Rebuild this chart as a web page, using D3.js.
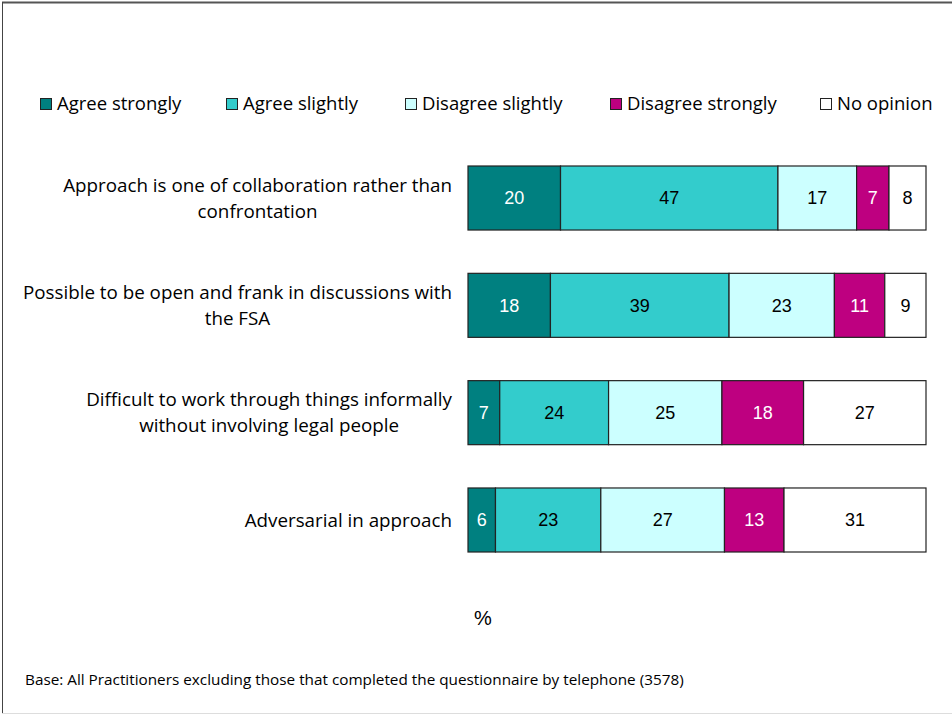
<!DOCTYPE html>
<html>
<head>
<meta charset="utf-8">
<script src="https://cdn.jsdelivr.net/npm/d3@7"></script>
<style>
  html, body { margin: 0; padding: 0; background: #fff; }
  svg { display: block; }
</style>
</head>
<body>
<svg id="chart" width="952" height="715"></svg>
<script>
// Statements and response shares (%)
const statements = [
  ["Approach is one of collaboration rather than", "confrontation"],
  ["Possible to be open and frank in discussions with", "the FSA"],
  ["Difficult to work through things informally", "without involving legal people"],
  ["Adversarial in approach"]
];
const responses = ["Agree strongly", "Agree slightly", "Disagree slightly", "Disagree strongly", "No opinion"];
const agreeStrongly    = [20, 18, 7, 6];
const agreeSlightly    = [47, 39, 24, 23];
const disagreeSlightly = [17, 23, 25, 27];
const disagreeStrongly = [7, 11, 18, 13];
const noOpinion        = [8, 9, 27, 31];
const axisLabel = "%";
const baseNote = "Base: All Practitioners excluding those that completed the questionnaire by telephone (3578)";

const seriesValues = [agreeStrongly, agreeSlightly, disagreeSlightly, disagreeStrongly, noOpinion];
const colors = ["#008080", "#33CCCC", "#CCFFFF", "#BE0080", "#FFFFFF"];
const labelColors = ["#FFFFFF", "#000000", "#000000", "#FFFFFF", "#000000"];

const svg = d3.select("#chart");
const labelFont = "'Open Sans', sans-serif";
const numFont = "'Liberation Sans', Arial, sans-serif";

// Frame lines
svg.append("line").attr("x1", 2).attr("x2", 952).attr("y1", 2.5).attr("y2", 2.5).attr("stroke", "#555").attr("stroke-width", 2);
svg.append("line").attr("x1", 2.5).attr("x2", 2.5).attr("y1", 2).attr("y2", 713).attr("stroke", "#444").attr("stroke-width", 1);
svg.append("line").attr("x1", 2).attr("x2", 952).attr("y1", 713.5).attr("y2", 713.5).attr("stroke", "#ddd").attr("stroke-width", 1);

// Rows: each statement's shares normalised to a full-width bar
const rows = statements.map((s, i) => {
  const vals = seriesValues.map(sv => sv[i]);
  const total = d3.sum(vals);
  let acc = 0;
  const segs = vals.map((v, k) => {
    const seg = { k, v, x0: acc / total * 100, x1: (acc + v) / total * 100 };
    acc += v;
    return seg;
  });
  return { label: s, segs };
});

const x = d3.scaleLinear().domain([0, 100]).range([468, 926]);
const y = d3.scaleBand().domain(d3.range(statements.length)).range([166, 552]).paddingInner(0.4035).paddingOuter(0);

const row = svg.selectAll("g.row").data(rows).join("g").attr("class", "row")
  .attr("transform", (d, i) => `translate(0,${y(i)})`);

row.selectAll("rect").data(d => d.segs).join("rect")
  .attr("x", d => x(d.x0))
  .attr("width", d => x(d.x1) - x(d.x0))
  .attr("y", 0)
  .attr("height", y.bandwidth())
  .attr("fill", d => colors[d.k])
  .attr("stroke", "#222")
  .attr("stroke-width", 1.2);

row.selectAll("text.val").data(d => d.segs).join("text").attr("class", "val")
  .attr("x", d => (x(d.x0) + x(d.x1)) / 2)
  .attr("y", y.bandwidth() / 2)
  .attr("dy", "0.36em")
  .attr("text-anchor", "middle")
  .attr("font-family", numFont)
  .attr("font-size", 18)
  .attr("fill", d => labelColors[d.k])
  .text(d => d.v);

// Category labels: centred lines in a block whose right edge sits beside the bars
row.each(function (d) {
  const g = d3.select(this);
  const t = g.append("text")
    .attr("font-family", labelFont)
    .attr("font-size", 18.8)
    .attr("fill", "#000")
    .attr("text-anchor", "middle");
  const lh = 26;
  const n = d.label.length;
  const spans = t.selectAll("tspan").data(d.label).join("tspan")
    .text(line => line)
    .attr("y", (line, j) => y.bandwidth() / 2 + (j - (n - 1) / 2) * lh)
    .attr("dy", "0.35em");
  const maxW = d3.max(spans.nodes(), s => s.getComputedTextLength());
  spans.attr("x", 452 - maxW / 2);
});

// Legend
const legendX = [40, 226, 405, 610, 820];
const leg = svg.selectAll("g.leg").data(responses).join("g").attr("class", "leg")
  .attr("transform", (d, i) => `translate(${legendX[i]},104)`);
leg.append("rect").attr("x", 0.5).attr("y", -5.5).attr("width", 11).attr("height", 11)
  .attr("fill", (d, i) => colors[i]).attr("stroke", "#222").attr("stroke-width", 1);
leg.append("text").attr("x", 17).attr("y", 0).attr("dy", "0.35em")
  .attr("font-family", labelFont).attr("font-size", 18.5).attr("fill", "#000").text(d => d);

// Axis unit
svg.append("text").attr("x", 483).attr("y", 618).attr("dy", "0.35em").attr("text-anchor", "middle")
  .attr("font-family", numFont).attr("font-size", 20).attr("fill", "#000").text(axisLabel);

// Base note
svg.append("text").attr("x", 25).attr("y", 680).attr("dy", "0.35em")
  .attr("font-family", labelFont).attr("font-size", 15.3).attr("fill", "#000").text(baseNote);
</script>
</body>
</html>
